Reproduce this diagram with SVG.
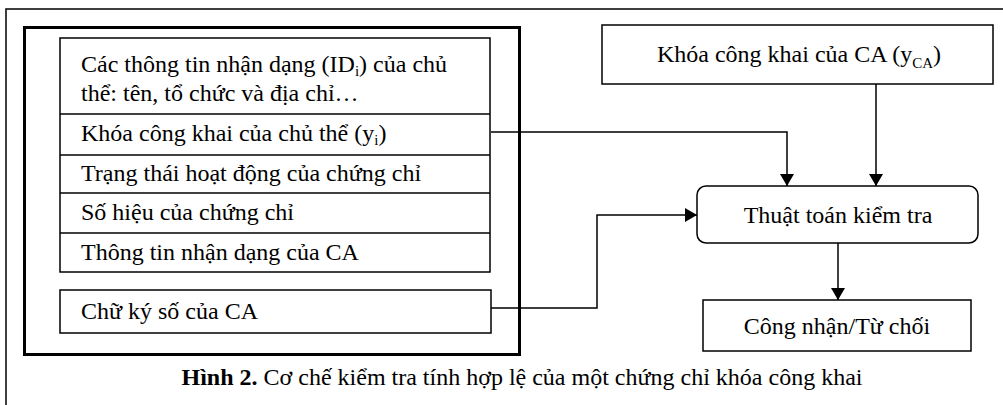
<svg xmlns="http://www.w3.org/2000/svg" width="1003" height="405" viewBox="0 0 1003 405">
<defs>
<marker id="ah" viewBox="0 0 12 14" refX="12" refY="7" markerWidth="12" markerHeight="14" markerUnits="userSpaceOnUse" orient="auto">
<path d="M0,0 L12,7 L0,14 Z" fill="#000"/>
</marker>
<style>
.t{font-family:"Liberation Serif","Times New Roman",serif;font-size:24px;fill:#000}
.b{fill:#fff;stroke:#000;stroke-width:1.5}
.c{fill:none;stroke:#000;stroke-width:1.5}
</style>
</defs>
<rect width="1003" height="405" fill="#fff"/>
<rect id="frame" x="6" y="9" width="1010" height="410" fill="none" stroke="#000" stroke-width="1.5"/>
<g id="certificate">
<rect x="24.5" y="27.5" width="495" height="327" fill="none" stroke="#000" stroke-width="3"/>
<g id="fields">
<rect class="b" x="60" y="38" width="430" height="234"/>
<line class="c" x1="60" y1="114" x2="490" y2="114"/>
<line class="c" x1="60" y1="155" x2="490" y2="155"/>
<line class="c" x1="60" y1="193" x2="490" y2="193"/>
<line class="c" x1="60" y1="233" x2="490" y2="233"/>
<text class="t" x="81" y="72">Các thông tin nhận dạng (ID<tspan font-size="15" dy="4">i</tspan><tspan dy="-4">) của chủ</tspan></text>
<text class="t" x="81" y="101">thể: tên, tổ chức và địa chỉ…</text>
<text class="t" x="81" y="141">Khóa công khai của chủ thể (y<tspan font-size="15" dy="4">i</tspan><tspan dy="-4">)</tspan></text>
<text class="t" x="81" y="181">Trạng thái hoạt động của chứng chỉ</text>
<text class="t" x="81" y="220">Số hiệu của chứng chỉ</text>
<text class="t" x="81" y="260">Thông tin nhận dạng của CA</text>
</g>
<g id="signature">
<rect class="b" x="60" y="290" width="431" height="43"/>
<text class="t" x="81" y="319">Chữ ký số của CA</text>
</g>
</g>
<g id="ca-key">
<rect class="b" x="602" y="25" width="391" height="59"/>
<text class="t" x="799" y="62" text-anchor="middle">Khóa công khai của CA (y<tspan font-size="15" dy="6">CA</tspan><tspan dy="-6">)</tspan></text>
</g>
<g id="verify">
<rect class="b" x="697" y="186" width="281" height="57" rx="9"/>
<text class="t" x="838" y="223" text-anchor="middle">Thuật toán kiểm tra</text>
</g>
<g id="result">
<rect class="b" x="703" y="300" width="268" height="51"/>
<text class="t" x="837" y="334" text-anchor="middle">Công nhận/Từ chối</text>
</g>
<g id="connectors">
<polyline class="c" points="491,132 787,132 787,186" marker-end="url(#ah)"/>
<polyline class="c" points="876,84 876,186" marker-end="url(#ah)"/>
<polyline class="c" points="491,308 597,308 597,215 697,215" marker-end="url(#ah)"/>
<polyline class="c" points="838,243 838,300" marker-end="url(#ah)"/>
</g>
<text class="t" x="522" y="385" text-anchor="middle"><tspan font-weight="bold">Hình 2.</tspan> Cơ chế kiểm tra tính hợp lệ của một chứng chỉ khóa công khai</text>
</svg>
